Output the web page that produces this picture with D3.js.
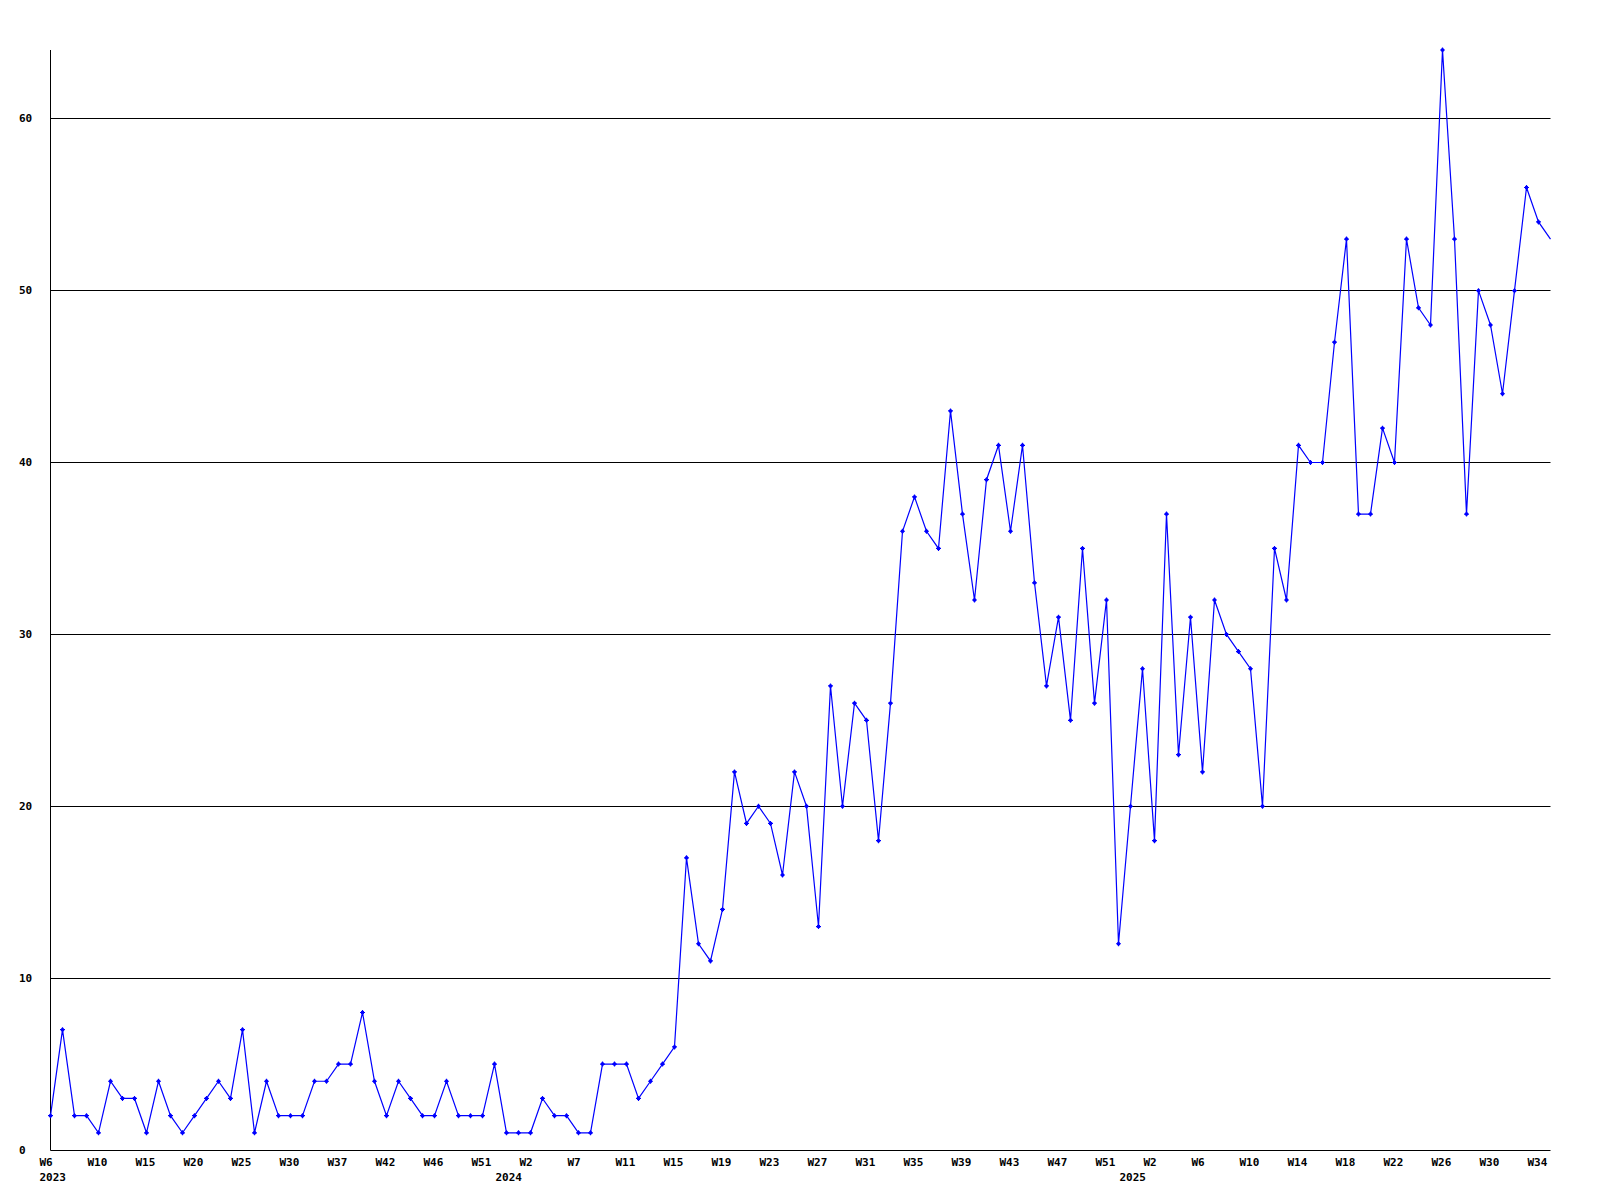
<!DOCTYPE html>
<html>
<head>
<meta charset="utf-8">
<script src="https://cdn.jsdelivr.net/npm/d3@7"></script>
<style>
html, body { margin: 0; padding: 0; background: #ffffff; }
svg { display: block; }
text { font-family: "DejaVu Sans Mono", monospace; font-weight: bold; font-size: 11px; fill: #000; }
</style>
</head>
<body>
<script>
// Weekly counts, one per point (W6 2023 ... W35 2025)
const values = [
  2, 7, 2, 2, 1, 4, 3, 3, 1, 4,
  2, 1, 2, 3, 4, 3, 7, 1, 4, 2,
  2, 2, 4, 4, 5, 5, 8, 4, 2, 4,
  3, 2, 2, 4, 2, 2, 2, 5, 1, 1,
  1, 3, 2, 2, 1, 1, 5, 5, 5, 3,
  4, 5, 6, 17, 12, 11, 14, 22, 19, 20,
  19, 16, 22, 20, 13, 27, 20, 26, 25, 18,
  26, 36, 38, 36, 35, 43, 37, 32, 39, 41,
  36, 41, 33, 27, 31, 25, 35, 26, 32, 12,
  20, 28, 18, 37, 23, 31, 22, 32, 30, 29,
  28, 20, 35, 32, 41, 40, 40, 47, 53, 37,
  37, 42, 40, 53, 49, 48, 64, 53, 37, 50,
  48, 44, 50, 56, 54, 53
];

// Week labels, one every 4th point
const weekLabels = [
  "W6", "W10", "W15", "W20", "W25", "W30", "W37", "W42", "W46", "W51",
  "W2", "W7", "W11", "W15", "W19", "W23", "W27", "W31", "W35", "W39", "W43", "W47", "W51",
  "W2", "W6", "W10", "W14", "W18", "W22", "W26", "W30", "W34"
];
const weekLabelStep = 4;

// Year labels and the point index where each year starts
const yearLabels = ["2023", "2024", "2025"];
const yearStartIndex = [0, 38, 90];

// Y axis ticks
const yTicks = [0, 10, 20, 30, 40, 50, 60];
const yMax = 64;

const W = 1600, H = 1200;
const plotLeft = 50.5, plotRight = 1550.5, plotTop = 50, plotBottom = 1150;

const svg = d3.select("body").append("svg")
  .attr("width", W).attr("height", H);

const x = d3.scalePoint()
  .domain(d3.range(values.length))
  .range([plotLeft, plotRight]);

const y = d3.scaleLinear()
  .domain([0, yMax])
  .range([plotBottom, plotTop]);

// Gridlines
svg.append("g").selectAll("line")
  .data(yTicks.filter(d => d > 0))
  .join("line")
  .attr("x1", plotLeft).attr("x2", plotRight)
  .attr("y1", d => Math.floor(y(d)) + 0.5)
  .attr("y2", d => Math.floor(y(d)) + 0.5)
  .attr("stroke", "#000").attr("stroke-width", 1);

// Axes lines
svg.append("line")
  .attr("x1", plotLeft).attr("x2", plotLeft)
  .attr("y1", plotTop).attr("y2", plotBottom + 0.5)
  .attr("stroke", "#000");
svg.append("line")
  .attr("x1", plotLeft).attr("x2", plotRight)
  .attr("y1", plotBottom + 0.5).attr("y2", plotBottom + 0.5)
  .attr("stroke", "#000");

// Y labels
svg.append("g").selectAll("text")
  .data(yTicks)
  .join("text")
  .attr("x", 19)
  .attr("y", d => y(d))
  .attr("dy", "0.33em")
  .text(d => d);

// Week labels
svg.append("g").selectAll("text")
  .data(weekLabels)
  .join("text")
  .attr("x", (d, i) => x(i * weekLabelStep) - 11)
  .attr("y", 1166)
  .text(d => d);

// Year labels
svg.append("g").selectAll("text")
  .data(yearLabels)
  .join("text")
  .attr("x", (d, i) => x(yearStartIndex[i]) - 11)
  .attr("y", 1181)
  .text(d => d);

// Line
const line = d3.line()
  .x((d, i) => x(i))
  .y(d => y(d));

svg.append("path")
  .datum(values)
  .attr("d", line)
  .attr("fill", "none")
  .attr("stroke", "#0000ff")
  .attr("stroke-width", 1.2);

// Markers (last point sits on the plot edge and has no marker)
const markerPath = "M-2.5,-0.6H2.5V0.6H-2.5Z M-0.6,-2.5H0.6V2.5H-0.6Z M-1.5,-1.5H1.5V1.5H-1.5Z";
svg.append("g").selectAll("path")
  .data(values.slice(0, values.length - 1))
  .join("path")
  .attr("transform", (d, i) => `translate(${x(i)},${y(d)})`)
  .attr("d", markerPath)
  .attr("fill", "#0000ff");
</script>
</body>
</html>
